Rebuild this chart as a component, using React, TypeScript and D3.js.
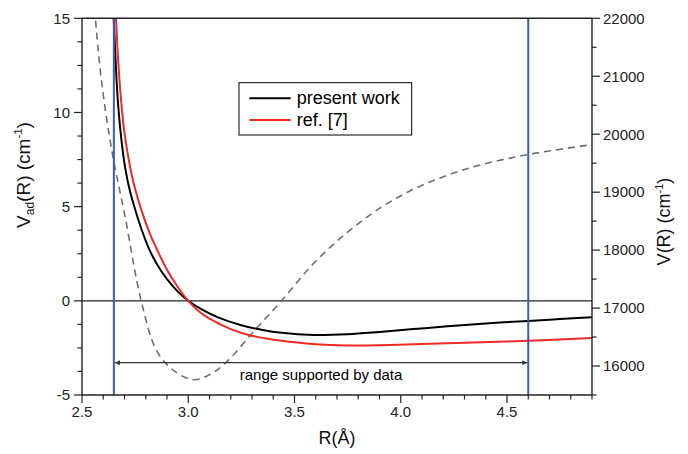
import React from "react";
import * as d3 from "d3";

const W = 688, H = 454;
const M = { left: 82, right: 592, top: 18.3, bottom: 395 };

const presentR = [2.63, 2.649, 2.66, 2.67, 2.685, 2.7, 2.72, 2.75, 2.78, 2.814, 2.85, 2.9, 2.95, 3.0, 3.07, 3.14, 3.25, 3.35, 3.44, 3.59, 3.75, 3.9, 4.06, 4.22, 4.4, 4.6, 4.75, 4.9];
const presentV = [21, 15, 12.3, 10.4, 8.6, 7.3, 6.1, 4.85, 3.8, 2.8, 2.0, 1.15, 0.5, 0, -0.5, -0.88, -1.3, -1.55, -1.7, -1.81, -1.77, -1.65, -1.5, -1.35, -1.2, -1.07, -0.97, -0.87];

const refR = [2.645, 2.66, 2.67, 2.685, 2.7, 2.72, 2.744, 2.78, 2.82, 2.858, 2.9, 2.95, 3.0, 3.05, 3.1, 3.2, 3.28, 3.44, 3.6, 3.75, 3.9, 4.06, 4.3, 4.6, 4.9];
const refV = [19, 15, 12.8, 10.5, 8.9, 7.5, 6.2, 4.8, 3.55, 2.6, 1.65, 0.75, 0, -0.55, -0.95, -1.5, -1.8, -2.12, -2.3, -2.37, -2.36, -2.31, -2.22, -2.12, -1.97];

const potR = [2.54, 2.563, 2.594, 2.641, 2.704, 2.779, 2.853, 2.94, 3.026, 3.1, 3.175, 3.309, 3.44, 3.59, 3.747, 3.904, 4.06, 4.218, 4.375, 4.6, 4.9];
const potV = [23200, 22000, 20854, 19705, 18554, 17116, 16254, 15900, 15764, 15850, 16052, 16599, 17130, 17772, 18300, 18730, 19050, 19290, 19470, 19650, 19820];

const rangeR = [2.65, 4.6];
const xMajor = [2.5, 3.0, 3.5, 4.0, 4.5];
const yLeftMajor = [-5, 0, 5, 10, 15];
const yRightMajor = [16000, 17000, 18000, 19000, 20000, 21000, 22000];
const legendNames = ["present work", "ref. [7]"];

const FONT = "'Liberation Sans', Arial, Helvetica, sans-serif";
const AX = "#222";

export default function App() {
  const x = d3.scaleLinear().domain([2.5, 4.9]).range([M.left, M.right]);
  const yL = d3.scaleLinear().domain([-5, 15]).range([M.bottom, M.top]);
  const yR = d3.scaleLinear().domain([15500, 22000]).range([M.bottom, M.top]);

  const curve = d3.curveCatmullRom.alpha(0.5);
  const lineL = d3.line<[number, number]>().x(d => x(d[0])).y(d => yL(d[1])).curve(curve);
  const lineR = d3.line<[number, number]>().x(d => x(d[0])).y(d => yR(d[1])).curve(curve);

  const pres = presentR.map((r, i) => [r, presentV[i]] as [number, number]);
  const ref = refR.map((r, i) => [r, refV[i]] as [number, number]);
  const pot = potR.map((r, i) => [r, potV[i]] as [number, number]);

  const xMinor = d3.range(25, 50).map(v => v / 10).filter(v => !xMajor.some(m => Math.abs(m - v) < 1e-6));
  const yLMinor = d3.range(-5, 15.01, 1.25).filter(v => !yLeftMajor.some(m => Math.abs(m - v) < 1e-6));
  const yRMinor = d3.range(15500, 22001, 500).filter(v => !yRightMajor.includes(v));

  const arrowY = 362.7;

  return (
    <svg width={W} height={H} style={{ position: "absolute", left: 0, top: 0, background: "#fff" }} fontFamily={FONT}>
      <defs>
        <clipPath id="plot">
          <rect x={M.left} y={M.top} width={M.right - M.left} height={M.bottom - M.top} />
        </clipPath>
        <marker id="ah" viewBox="0 0 10 10" refX="10" refY="5" markerWidth="9" markerHeight="5" orient="auto-start-reverse" markerUnits="userSpaceOnUse">
          <path d="M0,0 L10,5 L0,10 z" fill="#333" />
        </marker>
      </defs>
      <rect width={W} height={H} fill="#fff" />

      <line x1={M.left} x2={M.right} y1={yL(0)} y2={yL(0)} stroke="#222" strokeWidth={1.2} />

      <g clipPath="url(#plot)">
        <path d={lineR(pot) || ""} fill="none" stroke="#6e6e6e" strokeWidth={1.6} strokeDasharray="7,5" />
        <path d={lineL(pres) || ""} fill="none" stroke="#000" strokeWidth={2} />
        <path d={lineL(ref) || ""} fill="none" stroke="#ee2a24" strokeWidth={2} />
      </g>

      {rangeR.map((r, i) => (
        <line key={i} x1={x(r)} x2={x(r)} y1={M.top} y2={M.bottom} stroke="#3a5db5" strokeWidth={2} />
      ))}
      <line x1={x(rangeR[0]) + 1} x2={x(rangeR[1]) - 1} y1={arrowY} y2={arrowY} stroke="#333" strokeWidth={1.2}
        markerStart="url(#ah)" markerEnd="url(#ah)" />
      <text x={(x(rangeR[0]) + x(rangeR[1])) / 2} y={379.5} fontSize={15} textAnchor="middle" fill="#000">range supported by data</text>

      <line x1={M.left} x2={M.right} y1={M.top} y2={M.top} stroke={AX} strokeWidth={1.6} />
      <line x1={M.left} x2={M.right} y1={M.bottom} y2={M.bottom} stroke={AX} strokeWidth={1.4} />
      <line x1={M.left} x2={M.left} y1={M.top} y2={M.bottom} stroke={AX} strokeWidth={1.4} />
      <line x1={M.right} x2={M.right} y1={M.top} y2={M.bottom} stroke={AX} strokeWidth={1.4} />

      {xMajor.map(v => (
        <g key={v}>
          <line x1={x(v)} x2={x(v)} y1={M.bottom} y2={M.bottom + 8} stroke={AX} strokeWidth={1.2} />
          <text x={x(v)} y={417} fontSize={15} textAnchor="middle" fill="#222">{v.toFixed(1)}</text>
        </g>
      ))}
      {xMinor.map(v => (
        <line key={v} x1={x(v)} x2={x(v)} y1={M.bottom} y2={M.bottom + 4.5} stroke={AX} strokeWidth={1.2} />
      ))}

      {yLeftMajor.map(v => (
        <g key={v}>
          <line x1={M.left - 8} x2={M.left} y1={yL(v)} y2={yL(v)} stroke={AX} strokeWidth={1.2} />
          <text x={M.left - 12} y={yL(v) + 5.3} fontSize={15} textAnchor="end" fill="#222">{v}</text>
        </g>
      ))}
      {yLMinor.map(v => (
        <line key={v} x1={M.left - 4.5} x2={M.left} y1={yL(v)} y2={yL(v)} stroke={AX} strokeWidth={1.2} />
      ))}

      {yRightMajor.map(v => (
        <g key={v}>
          <line x1={M.right} x2={M.right + 8} y1={yR(v)} y2={yR(v)} stroke={AX} strokeWidth={1.2} />
          <text x={M.right + 11} y={yR(v) + 5.3} fontSize={15} textAnchor="start" fill="#222">{v}</text>
        </g>
      ))}
      {yRMinor.map(v => (
        <line key={v} x1={M.right} x2={M.right + 4.5} y1={yR(v)} y2={yR(v)} stroke={AX} strokeWidth={1.2} />
      ))}

      <text x={(M.left + M.right) / 2} y={444} fontSize={18} textAnchor="middle" fill="#111">R(Å)</text>
      <text transform={`translate(29.5, 175) rotate(-90)`} fontSize={19} textAnchor="middle" fill="#111">
        V<tspan fontSize={12} dy={4}>ad</tspan><tspan dy={-4}>(R) (cm</tspan><tspan fontSize={11.5} dy={-7.5}>-1</tspan><tspan dy={7.5}>)</tspan>
      </text>
      <text transform={`translate(670, 221.5) rotate(-90)`} fontSize={18} textAnchor="middle" fill="#111">
        V(R) (cm<tspan fontSize={11} dy={-7}>-1</tspan><tspan dy={7}>)</tspan>
      </text>

      <rect x={239} y={82.7} width={172.7} height={52.3} fill="#fff" stroke="#000" strokeWidth={1} />
      {legendNames.map((n, i) => (
        <g key={n}>
          <line x1={249.3} x2={290.7} y1={98.3 + i * 21.7} y2={98.3 + i * 21.7} stroke={i === 0 ? "#000" : "#ee2a24"} strokeWidth={2} />
          <text x={296.7} y={103.8 + i * 21.7} fontSize={18} fill="#000">{n}</text>
        </g>
      ))}
    </svg>
  );
}
